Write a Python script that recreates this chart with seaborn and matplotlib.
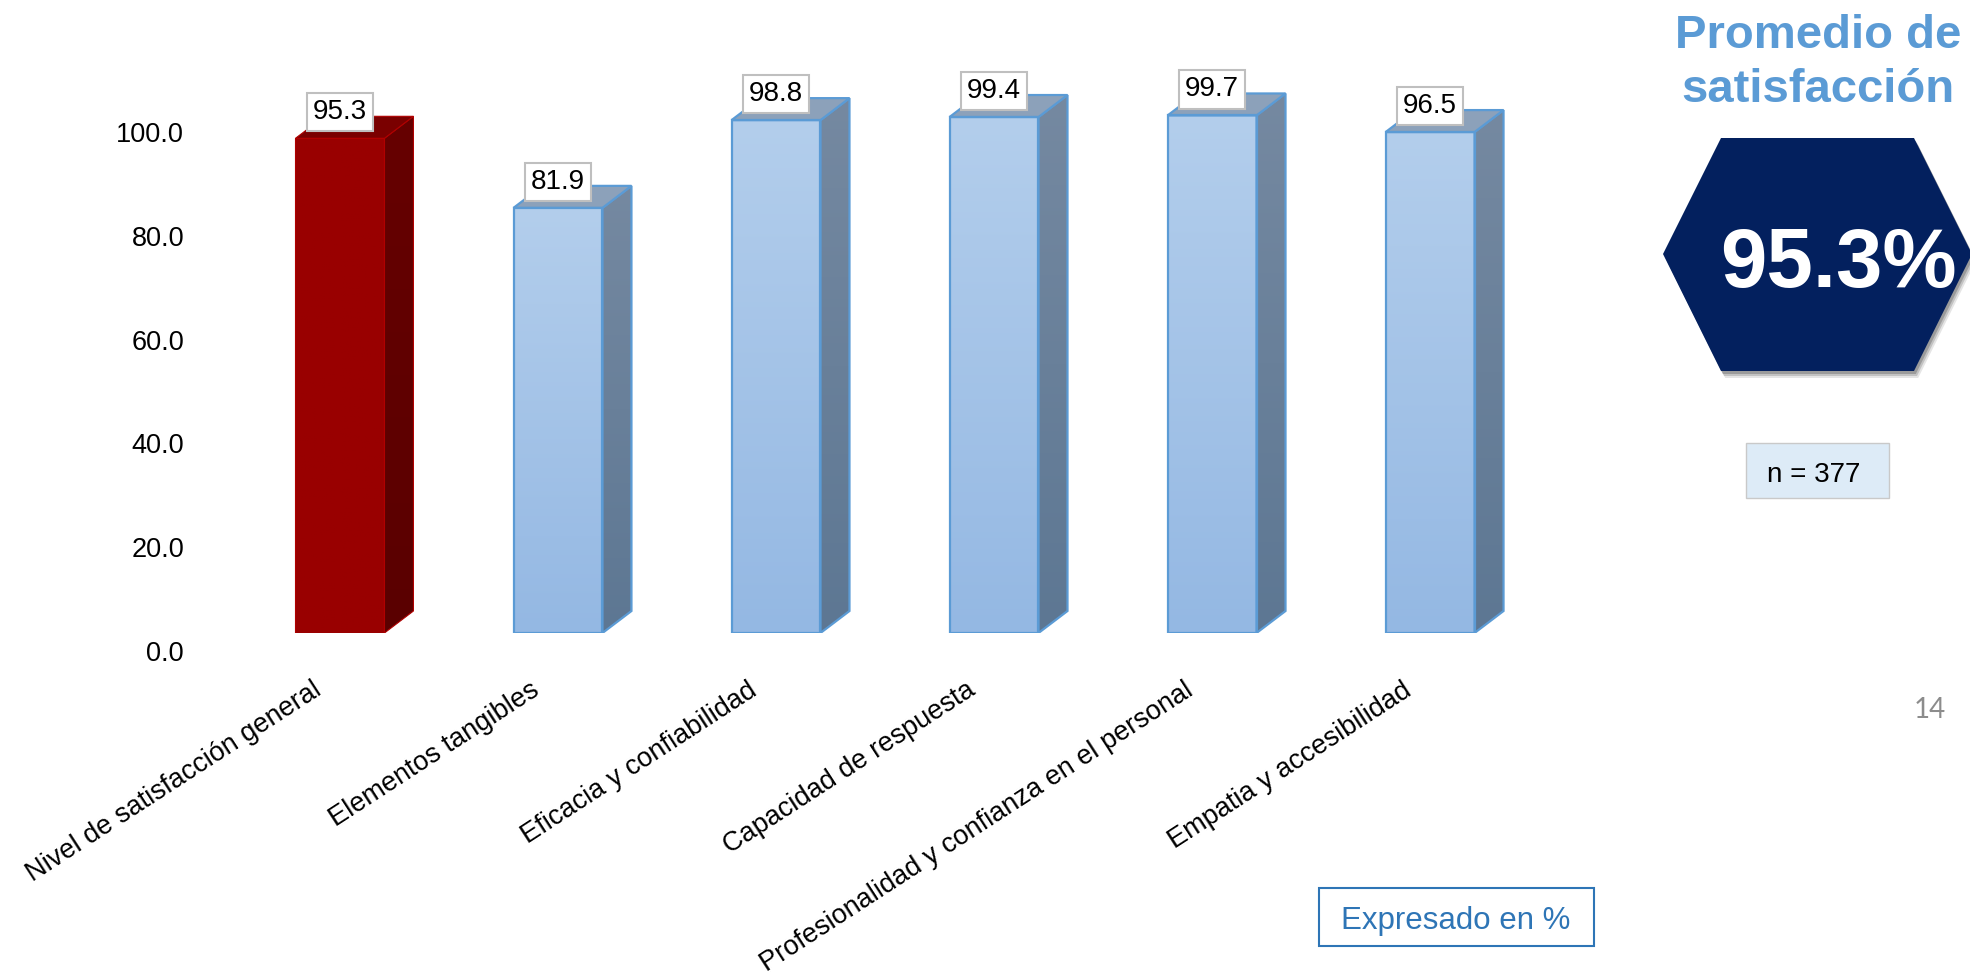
import numpy as np
import pandas as pd
import matplotlib
matplotlib.use("Agg")
import matplotlib.pyplot as plt
import seaborn as sns
from matplotlib.patches import Polygon, Rectangle
from matplotlib.transforms import ScaledTranslation
from matplotlib.colors import LinearSegmentedColormap

# ---- data -------------------------------------------------------------
categories = [
    "Nivel de satisfacción general",
    "Elementos tangibles",
    "Eficacia y confiabilidad",
    "Capacidad de respuesta",
    "Profesionalidad y confianza en el personal",
    "Empatia y accesibilidad",
]
values = [95.3, 81.9, 98.8, 99.4, 99.7, 96.5]
y_ticks = [0, 20, 40, 60, 80, 100]
overall = 95.3
sample_size = 377

# ---- style ------------------------------------------------------------
sns.set_theme(style="white")
plt.rcParams["font.family"] = ["Liberation Sans", "DejaVu Sans"]

W, H = 1970, 972
fig = plt.figure(figsize=(W / 100, H / 100), dpi=100)
fig.patch.set_facecolor("white")


def fx(px):
    return px / W


def fy(py):
    return 1 - py / H


ax = fig.add_axes([fx(200), fy(633), (1560 - 200) / W, 571 / H])
df = pd.DataFrame({"cat": categories, "val": values})
front_colors = ["#990000"] + ["#A6C4E8"] * (len(categories) - 1)
sns.barplot(data=df, x="cat", y="val", hue="cat", palette=front_colors,
            width=0.408, legend=False, ax=ax, saturation=1)
ax.set_xlim(-0.642, 5.596)
ax.set_ylim(0, 110)
ax.set_xlabel("")
ax.set_ylabel("")
for s in ax.spines.values():
    s.set_visible(False)
ax.set_facecolor("white")

# pixel depth of the pseudo-3D extrusion, converted to data units
p0 = ax.transData.transform((0, 0))
p1 = ax.transData.transform((1, 1))
ddx = 29 / (p1[0] - p0[0])
ddy = 22 / (p1[1] - p0[1])

styles = {
    "red": dict(front=("#990000", "#990000"), side=("#5A0000", "#660000"),
                top="#7A0000", edge="#B00000", lw=0.8),
    "blue": dict(front=("#94B8E3", "#B3CEEC"), side=("#5D7793", "#7589A1"),
                 top="#8CA1BA", edge="#5B9BD5", lw=1.6),
}


def grad_cmap(bottom, top):
    return LinearSegmentedColormap.from_list("g", [bottom, top])


grad = np.linspace(0, 1, 256).reshape(-1, 1)
bars = sorted(ax.patches, key=lambda p: p.get_x())
for i, bar in enumerate(bars):
    st = styles["red"] if i == 0 else styles["blue"]
    x0 = bar.get_x()
    x1 = x0 + bar.get_width()
    h = bar.get_height()

    # side face
    side = Polygon([(x1, 0), (x1 + ddx, ddy), (x1 + ddx, h + ddy), (x1, h)],
                   closed=True, facecolor="none", edgecolor=st["edge"],
                   lw=st["lw"], zorder=3)
    ax.add_patch(side)
    im = ax.imshow(grad, extent=[x1, x1 + ddx, 0, h + ddy], origin="lower",
                   aspect="auto", cmap=grad_cmap(*st["side"]), zorder=2)
    im.set_clip_path(side)

    # top face
    top = Polygon([(x0, h), (x0 + ddx, h + ddy), (x1 + ddx, h + ddy), (x1, h)],
                  closed=True, facecolor=st["top"], edgecolor=st["edge"],
                  lw=st["lw"], zorder=3)
    ax.add_patch(top)

    # front face with vertical gradient
    ax.imshow(grad, extent=[x0, x1, 0, h], origin="lower", aspect="auto",
              cmap=grad_cmap(*st["front"]), zorder=2)
    bar.set_facecolor("none")
    bar.set_edgecolor(st["edge"])
    bar.set_linewidth(st["lw"])
    bar.set_zorder(4)

    ax.annotate(f"{values[i]:.1f}", xy=(x0 + bar.get_width() / 2, h),
                xytext=(0, 18.7), textcoords="offset points",
                ha="center", va="center", fontsize=20, color="black",
                zorder=6, annotation_clip=False,
                bbox=dict(boxstyle="square,pad=0.22", fc="white",
                          ec="#BFBFBF", lw=1.5))

ax.set_xlim(-0.642, 5.596)
ax.set_ylim(0, 110)

# y axis labels
ax.set_yticks(y_ticks)
ax.set_yticklabels([f"{t:.1f}" for t in y_ticks], fontsize=19.5, color="black")
ax.tick_params(axis="y", length=0, pad=11.5)
for lbl in ax.get_yticklabels():
    lbl.set_transform(lbl.get_transform() +
                      ScaledTranslation(0, -0.18, fig.dpi_scale_trans))

# x axis labels
ax.set_xticks(range(len(categories)))
ax.set_xticklabels(categories, rotation=33, ha="right", va="center",
                   rotation_mode="anchor", fontsize=19.5, color="black")
ax.tick_params(axis="x", length=0, pad=0)
for lbl in ax.get_xticklabels():
    lbl.set_transform(lbl.get_transform() +
                      ScaledTranslation(-0.21, -0.55, fig.dpi_scale_trans))

# ---- right-hand summary panel ----------------------------------------
fig.text(fx(1818), fy(48), "Promedio de", ha="center", va="baseline",
         fontsize=34, fontweight="bold", color="#5B9BD5")
fig.text(fx(1818), fy(102), "satisfacción", ha="center", va="baseline",
         fontsize=34, fontweight="bold", color="#5B9BD5")

hex_px = [(1721, 138), (1914, 138), (1972, 254), (1914, 371), (1721, 371), (1663, 254)]
for off, alpha in [(7, 0.10), (5, 0.15), (3, 0.2)]:
    fig.patches.append(Polygon([(fx(x + off * 0.6), fy(y + off)) for x, y in hex_px],
                               closed=True, transform=fig.transFigure,
                               facecolor="black", alpha=alpha, lw=0))
fig.patches.append(Polygon([(fx(x), fy(y)) for x, y in hex_px], closed=True,
                           transform=fig.transFigure, facecolor="#03205E", lw=0))
fig.text(fx(1838), fy(287), f"{overall:.1f}%", ha="center", va="baseline",
         fontsize=60, fontweight="bold", color="white")

fig.patches.append(Rectangle((fx(1746), fy(498)), (1889 - 1746) / W, (498 - 443) / H,
                             transform=fig.transFigure, facecolor="#DDEBF7",
                             edgecolor="#C9C9C9", lw=1))
fig.text(fx(1814), fy(482), f"n = {sample_size}", ha="center", va="baseline",
         fontsize=20, color="black")

fig.text(fx(1930), fy(718), "14", ha="center", va="baseline", fontsize=20,
         color="#8C8C8C", family=["Lato", "DejaVu Sans"])

fig.patches.append(Rectangle((fx(1319), fy(946)), (1594 - 1319) / W, (946 - 888) / H,
                             transform=fig.transFigure, facecolor="white",
                             edgecolor="#2E75B6", lw=1.5))
fig.text(fx(1456), fy(929), "Expresado en %", ha="center", va="baseline",
         fontsize=22.5, color="#2E75B6")

fig.savefig("out.png", dpi=100, facecolor="white")
